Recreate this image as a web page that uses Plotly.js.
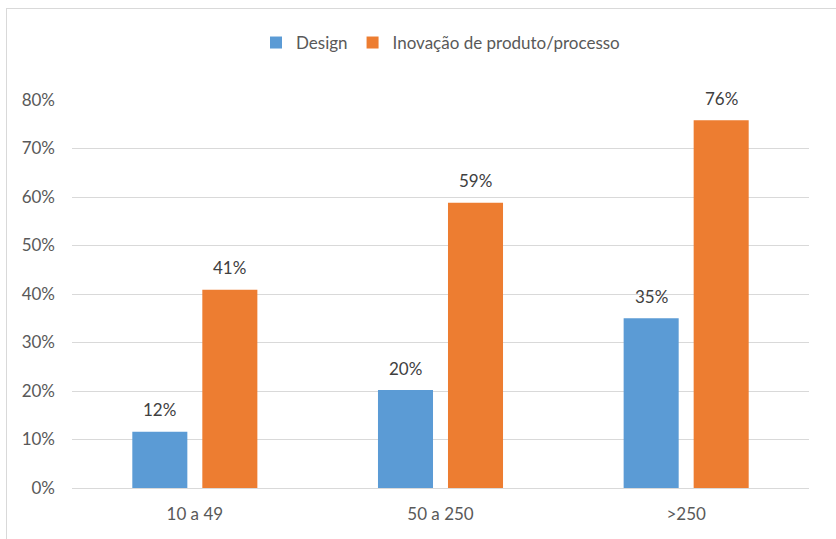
<!DOCTYPE html>
<html>
<head>
<meta charset="utf-8">
<script src="https://cdn.plot.ly/plotly-3.0.1.min.js"></script>
<style>
html,body{margin:0;padding:0;background:#fff;overflow:hidden;}
#wrap{position:relative;width:836px;height:539px;}
#chart{width:836px;height:539px;}
#frame{position:absolute;left:6px;top:8px;width:840px;height:540px;border:1px solid #d9d9d9;pointer-events:none;}
</style>
</head>
<body>
<div id="wrap"><div id="chart"></div><div id="frame"></div></div>
<script>
const categories = ['10 a 49', '50 a 250', '>250'];
const designValues = [0.116, 0.202, 0.350];
const inovacaoValues = [0.409, 0.588, 0.758];
const seriesNames = ['Design', 'Inovação de produto/processo'];
const yTickValues = [0, 0.1, 0.2, 0.3, 0.4, 0.5, 0.6, 0.7, 0.8];

const font = 'Lato, "Open Sans", sans-serif';
const fs = 17;
function series(name, values, color) {
  return {
    type: 'bar', name: name, x: categories, y: values,
    marker: {color: color}, hoverinfo: 'none'
  };
}
const data = [
  series(seriesNames[0], designValues, '#5B9BD5'),
  series(seriesNames[1], inovacaoValues, '#ED7D31')
];
const annotations = [];
[[designValues, -35], [inovacaoValues, 35]].forEach(([vals, dx]) => {
  vals.forEach((v, i) => {
    annotations.push({
      xref: 'x', yref: 'y', x: categories[i], y: v, xshift: dx, yshift: 22,
      text: Math.round(v * 100) + '%', showarrow: false, yanchor: 'middle',
      font: {family: font, size: fs, color: '#404040'}
    });
  });
});
const layout = {
  width: 836, height: 539,
  margin: {l: 72, r: 27, t: 100, b: 51},
  paper_bgcolor: '#fff', plot_bgcolor: '#fff',
  font: {family: font, size: fs, color: '#595959'},
  barmode: 'group', bargap: 0.43, bargroupgap: 0.214,
  showlegend: true,
  annotations: annotations,
  legend: {orientation: 'h', x: 0.5, xanchor: 'center', y: 1.147, yanchor: 'middle',
           font: {family: font, size: fs, color: '#595959'}, itemwidth: 30, traceorder: 'normal'},
  xaxis: {type: 'category', showgrid: false, showline: false, ticks: '', ticklabelstandoff: 14,
          tickfont: {family: font, size: fs, color: '#595959'}},
  yaxis: {range: [0, 0.8], tickvals: yTickValues, tickformat: '.0%', showgrid: true,
          gridcolor: '#d9d9d9', gridwidth: 1, zeroline: true, zerolinecolor: '#d9d9d9',
          zerolinewidth: 1, ticks: '', ticklabelstandoff: 16, showline: false,
          tickfont: {family: font, size: fs, color: '#595959'}}
};
Plotly.newPlot('chart', data, layout, {displayModeBar: false, staticPlot: true});
</script>
</body>
</html>
